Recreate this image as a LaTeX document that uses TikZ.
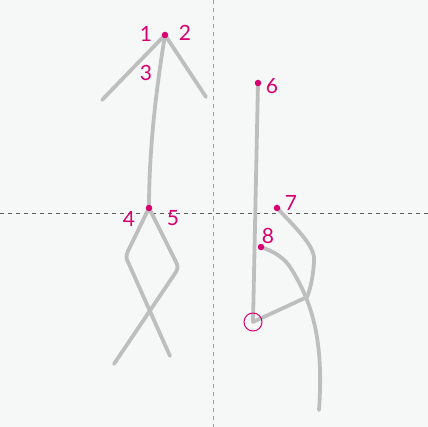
\documentclass[tikz,border=0pt]{standalone}
\usepackage{fontspec}
\setmainfont{Lato}
\definecolor{bgc}{RGB}{246,248,247}
\definecolor{strk}{RGB}{190,190,190}
\definecolor{mag}{RGB}{214,0,112}
\definecolor{gridc}{RGB}{90,90,90}
\tikzset{
  strokeline/.style={draw=strk,line width=3.8pt,line cap=round,line join=round},
  dotnode/.style={circle,fill=mag,inner sep=0pt,minimum size=6.5pt},
  numlabel/.style={text=mag,font=\fontsize{21}{21}\selectfont,inner sep=0pt},
  guide/.style={draw=gridc,line width=0.8pt,dash pattern=on 4pt off 4pt}
}
\begin{document}
\begin{tikzpicture}[x=1pt,y=-1pt]
\fill[bgc] (0,0) rectangle (428,427);
\useasboundingbox (0,0) rectangle (428,427);
% guides
\coordinate (gl) at (0,213);
\coordinate (gr) at (428,213);
\coordinate (gt) at (213,0);
\coordinate (gb) at (213,427);
\draw[guide] (gl) -- (gr);
\draw[guide,draw=gridc!60] (gt) -- (gb);
% key points
\coordinate (p1) at (165,35);
\coordinate (e1) at (102,100);
\coordinate (e2) at (206,97);
\coordinate (p4) at (149,208);
\coordinate (e4) at (170,356);
\coordinate (e5) at (114,364);
\coordinate (p6) at (258,83);
\coordinate (c) at (253,322);
\coordinate (p7) at (277,208);
\coordinate (p8) at (261,247);
\coordinate (e8) at (319,410);
% strokes
\draw[strokeline] (p1) -- (e1);
\draw[strokeline] (p1) -- (e2);
\draw[strokeline] (p1) .. controls (156,90) and (149,150) .. (p4);
\draw[strokeline] (p4) -- (128,251) .. controls (126,256) and (126,258) .. (128,262) -- (e4);
\draw[strokeline] (p4) -- (176,262) .. controls (178,266) and (178,268) .. (176,272) -- (e5);
\draw[strokeline] (p6) -- (c);
\draw[strokeline] (p7) .. controls (300,232) and (316,248) .. (314,262)
   .. controls (313,278) and (310,290) .. (307,297) -- (c);
\draw[strokeline] (p8) .. controls (275,252) and (285,258) .. (292,270)
   .. controls (312,303) and (324,340) .. (e8);
% dots
\node[dotnode] (d1) at (p1) {};
\node[dotnode] (d4) at (p4) {};
\node[dotnode] (d6) at (p6) {};
\node[dotnode] (d7) at (p7) {};
\node[dotnode] (d8) at (p8) {};
\node[circle,draw=mag,line width=1pt,minimum size=18pt,inner sep=0pt] (circ) at (c) {};
% labels
\node[numlabel] (l1) at (146,34) {1};
\node[numlabel] (l2) at (185,33) {2};
\node[numlabel] (l3) at (146,73) {3};
\node[numlabel] (l4) at (129,219) {4};
\node[numlabel] (l5) at (173,218) {5};
\node[numlabel] (l6) at (272,86) {6};
\node[numlabel] (l7) at (291,203) {7};
\node[numlabel] (l8) at (268,236) {8};
\end{tikzpicture}
\end{document}
